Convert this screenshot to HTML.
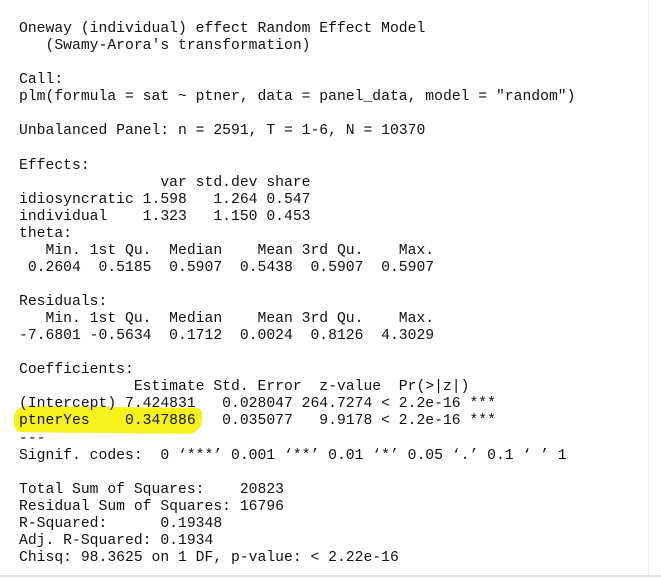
<!DOCTYPE html>
<html><head><meta charset="utf-8"><style>
html,body{margin:0;padding:0;background:#fff;width:661px;height:579px;overflow:hidden;position:relative}
pre{position:absolute;left:19px;top:21px;margin:0;font-family:"Liberation Mono",monospace;font-size:14.72px;line-height:17.06px;color:#111;z-index:2}
.hl{position:absolute;left:14px;top:407px;width:188px;height:26px;background:#f7f21a;border-radius:12px 6px 14px 8px;transform:rotate(0.6deg);z-index:1}
.bl{position:absolute;left:0;top:575px;width:661px;height:2px;background:#e3e3e3}
.vl{position:absolute;left:648px;top:0;width:1px;height:576px;background:#eee}
</style></head><body>
<div class="hl"></div>
<pre>Oneway (individual) effect Random Effect Model
   (Swamy-Arora's transformation)

Call:
plm(formula = sat ~ ptner, data = panel_data, model = "random")

Unbalanced Panel: n = 2591, T = 1-6, N = 10370

Effects:
                var std.dev share
idiosyncratic 1.598   1.264 0.547
individual    1.323   1.150 0.453
theta:
   Min. 1st Qu.  Median    Mean 3rd Qu.    Max. 
 0.2604  0.5185  0.5907  0.5438  0.5907  0.5907 

Residuals:
   Min. 1st Qu.  Median    Mean 3rd Qu.    Max. 
-7.6801 -0.5634  0.1712  0.0024  0.8126  4.3029 

Coefficients:
             Estimate Std. Error  z-value  Pr(&gt;|z|)    
(Intercept) 7.424831   0.028047 264.7274 &lt; 2.2e-16 ***
ptnerYes    0.347886   0.035077   9.9178 &lt; 2.2e-16 ***
---
Signif. codes:  0 ‘***’ 0.001 ‘**’ 0.01 ‘*’ 0.05 ‘.’ 0.1 ‘ ’ 1

Total Sum of Squares:    20823
Residual Sum of Squares: 16796
R-Squared:      0.19348
Adj. R-Squared: 0.1934
Chisq: 98.3625 on 1 DF, p-value: &lt; 2.22e-16</pre>
<div class="vl"></div>
<div class="bl"></div>
</body></html>
